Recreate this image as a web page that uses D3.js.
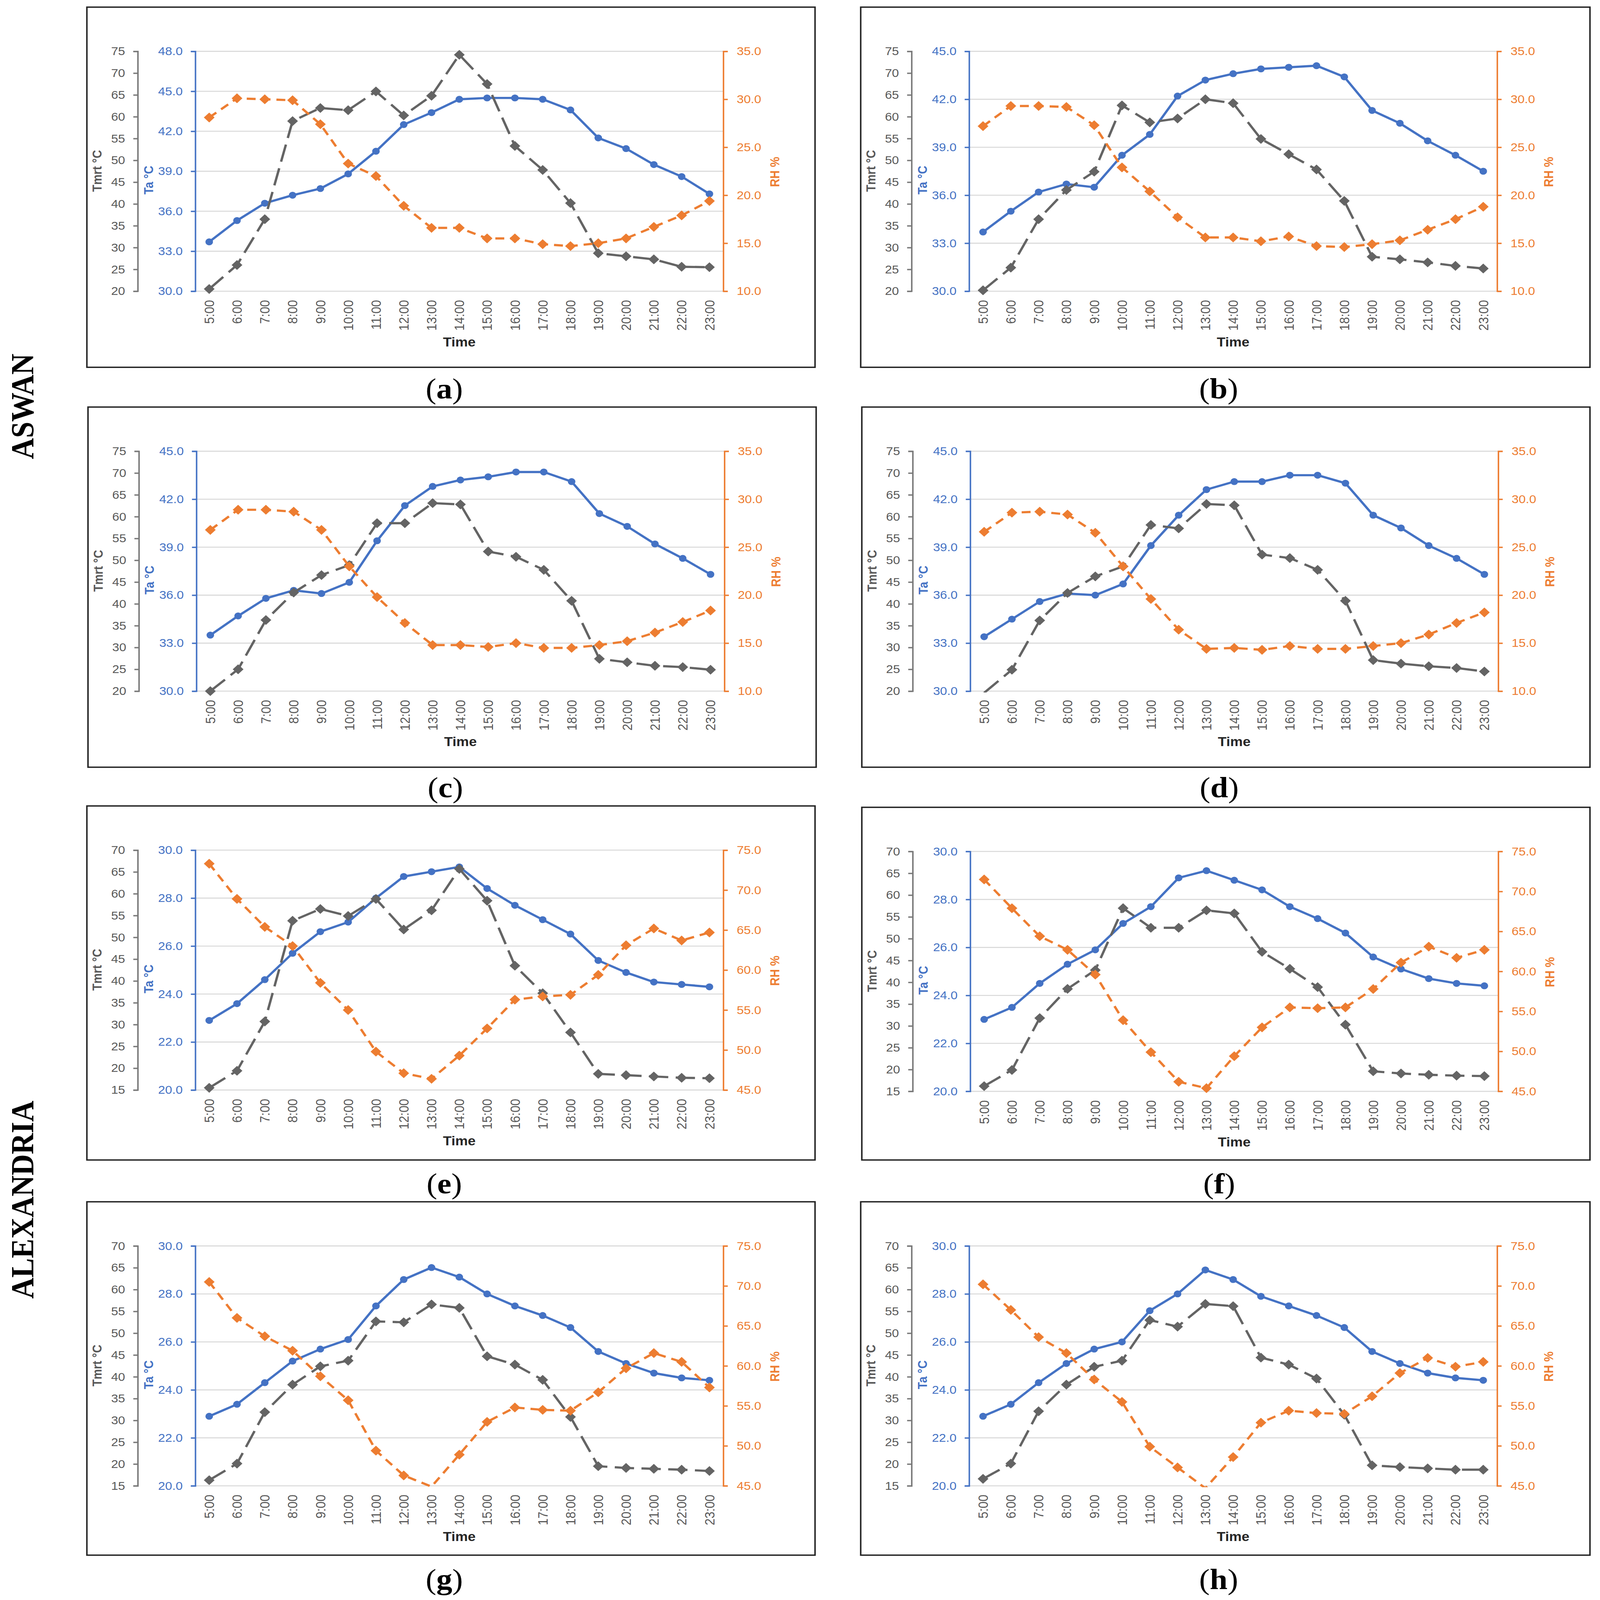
<!DOCTYPE html>
<html>
<head>
    <meta charset="utf-8">
    <style>
        html, body { padding: 0; margin: 0; background: #fff; overflow: hidden; }
        #chart { width: 100vw; height: 100vh; }
        #chart svg { display: block; }
    </style>
</head>
<body>
    <div id="chart"></div>
    <script src="https://cdn.jsdelivr.net/npm/d3@7/dist/d3.min.js"></script>
    <script>
        // categories
        const hours = ['5:00', '6:00', '7:00', '8:00', '9:00', '10:00', '11:00', '12:00', '13:00', '14:00',
                       '15:00', '16:00', '17:00', '18:00', '19:00', '20:00', '21:00', '22:00', '23:00'];

        // Aswan
        const taA   = [33.7, 35.3, 36.6, 37.2, 37.7, 38.8, 40.5, 42.5, 43.4, 44.4, 44.5, 44.5, 44.4, 43.6, 41.5, 40.7, 39.5, 38.6, 37.3];
        const tmrtA = [20.5, 26.0, 36.5, 59.0, 62.0, 61.5, 65.8, 60.3, 64.8, 74.2, 67.5, 53.3, 47.8, 40.2, 28.7, 28.0, 27.3, 25.6, 25.5];
        const rhA   = [28.1, 30.1, 30.0, 29.9, 27.4, 23.3, 22.0, 18.9, 16.6, 16.6, 15.5, 15.5, 14.9, 14.7, 15.0, 15.5, 16.7, 17.9, 19.4];

        const taB   = [33.7, 35.0, 36.2, 36.7, 36.5, 38.5, 39.8, 42.2, 43.2, 43.6, 43.9, 44.0, 44.1, 43.4, 41.3, 40.5, 39.4, 38.5, 37.5];
        const tmrtB = [20.2, 25.4, 36.5, 43.2, 47.4, 62.6, 58.7, 59.6, 64.0, 63.1, 54.9, 51.4, 47.9, 40.7, 27.9, 27.3, 26.6, 25.8, 25.2];
        const rhB   = [27.2, 29.3, 29.3, 29.2, 27.3, 22.9, 20.4, 17.7, 15.6, 15.6, 15.2, 15.7, 14.7, 14.6, 14.9, 15.3, 16.4, 17.5, 18.8];

        const taC   = [33.5, 34.7, 35.8, 36.3, 36.1, 36.8, 39.4, 41.6, 42.8, 43.2, 43.4, 43.7, 43.7, 43.1, 41.1, 40.3, 39.2, 38.3, 37.3];
        const tmrtC = [20.0, 25.0, 36.3, 42.6, 46.6, 48.9, 58.5, 58.5, 63.1, 62.8, 52.0, 50.8, 47.8, 40.7, 27.4, 26.6, 25.8, 25.5, 24.9];
        const rhC   = [26.8, 28.9, 28.9, 28.7, 26.8, 23.0, 19.8, 17.1, 14.8, 14.8, 14.6, 15.0, 14.5, 14.5, 14.8, 15.2, 16.1, 17.2, 18.4];

        const taD   = [33.4, 34.5, 35.6, 36.1, 36.0, 36.7, 39.1, 41.0, 42.6, 43.1, 43.1, 43.5, 43.5, 43.0, 41.0, 40.2, 39.1, 38.3, 37.3];
        const tmrtD = [19.6, 24.9, 36.2, 42.5, 46.3, 48.6, 58.1, 57.3, 62.9, 62.6, 51.3, 50.5, 47.8, 40.7, 27.1, 26.3, 25.7, 25.3, 24.5];
        const rhD   = [26.6, 28.6, 28.7, 28.4, 26.5, 23.0, 19.6, 16.4, 14.4, 14.5, 14.3, 14.7, 14.4, 14.4, 14.7, 15.0, 15.9, 17.1, 18.2];

        // Alexandria
        const taE   = [22.9, 23.6, 24.6, 25.7, 26.6, 27.0, 28.0, 28.9, 29.1, 29.3, 28.4, 27.7, 27.1, 26.5, 25.4, 24.9, 24.5, 24.4, 24.3];
        const tmrtE = [15.5, 19.4, 30.7, 53.8, 56.5, 54.9, 58.8, 51.8, 56.2, 65.7, 58.4, 43.5, 37.2, 28.2, 18.7, 18.4, 18.1, 17.8, 17.7];
        const rhE   = [73.3, 68.9, 65.4, 63.0, 58.4, 55.0, 49.8, 47.1, 46.4, 49.3, 52.7, 56.3, 56.7, 56.9, 59.4, 63.1, 65.2, 63.7, 64.7];

        const taF   = [23.0, 23.5, 24.5, 25.3, 25.9, 27.0, 27.7, 28.9, 29.2, 28.8, 28.4, 27.7, 27.2, 26.6, 25.6, 25.1, 24.7, 24.5, 24.4];
        const tmrtF = [16.2, 19.9, 31.8, 38.5, 42.8, 57.0, 52.5, 52.5, 56.5, 55.8, 47.0, 43.1, 38.9, 30.3, 19.6, 19.1, 18.8, 18.6, 18.5];
        const rhF   = [71.5, 67.9, 64.4, 62.7, 59.6, 53.9, 49.9, 46.2, 45.4, 49.4, 53.0, 55.5, 55.4, 55.5, 57.8, 61.1, 63.1, 61.7, 62.7];

        const taG   = [22.9, 23.4, 24.3, 25.2, 25.7, 26.1, 27.5, 28.6, 29.1, 28.7, 28.0, 27.5, 27.1, 26.6, 25.6, 25.1, 24.7, 24.5, 24.4];
        const tmrtG = [16.3, 20.1, 31.9, 38.2, 42.4, 43.7, 52.7, 52.5, 56.6, 55.8, 44.7, 42.8, 39.3, 30.8, 19.5, 19.1, 18.9, 18.7, 18.4];
        const rhG   = [70.5, 66.0, 63.7, 61.9, 58.7, 55.7, 49.4, 46.3, 44.9, 48.9, 53.0, 54.8, 54.5, 54.4, 56.7, 59.7, 61.6, 60.5, 57.3];

        const taH   = [22.9, 23.4, 24.3, 25.1, 25.7, 26.0, 27.3, 28.0, 29.0, 28.6, 27.9, 27.5, 27.1, 26.6, 25.6, 25.1, 24.7, 24.5, 24.4];
        const tmrtH = [16.6, 20.1, 32.1, 38.2, 42.3, 43.7, 53.0, 51.5, 56.7, 56.2, 44.4, 42.8, 39.6, 31.3, 19.7, 19.3, 19.0, 18.7, 18.7];
        const rhH   = [70.2, 67.0, 63.6, 61.6, 58.3, 55.5, 49.9, 47.3, 44.7, 48.6, 52.9, 54.4, 54.1, 54.0, 56.2, 59.1, 61.0, 59.9, 60.5];

        // axis ticks
        const aswanTmrtTicks = [20, 25, 30, 35, 40, 45, 50, 55, 60, 65, 70, 75];
        const aswanTaTicksA  = [30, 33, 36, 39, 42, 45, 48];
        const aswanTaTicks   = [30, 33, 36, 39, 42, 45];
        const aswanRhTicks   = [10, 15, 20, 25, 30, 35];
        const alexTmrtTicks  = [15, 20, 25, 30, 35, 40, 45, 50, 55, 60, 65, 70];
        const alexTaTicks    = [20, 22, 24, 26, 28, 30];
        const alexRhTicks    = [45, 50, 55, 60, 65, 70, 75];

        const panelLetters = ['a', 'b', 'c', 'd', 'e', 'f', 'g', 'h'];
        const cityNames = ['ASWAN', 'ALEXANDRIA'];

        const BLUE = '#4472C4', ORANGE = '#ED7D31', GRAY = '#595959', LINEGRAY = '#646464';
        const SANS = '"Liberation Sans", Arial, sans-serif';
        const SERIF = '"Liberation Serif", "Times New Roman", serif';

        // the figure is laid out in the reference's own pixel space and fitted to the window
        const W = 4309, H = 4709;
        const svg = d3.select('#chart').append('svg')
            .attr('width', '100%')
            .attr('height', '100%')
            .attr('viewBox', `0 0 ${W} ${H}`)
            .attr('preserveAspectRatio', 'none');
        svg.append('rect').attr('width', W).attr('height', H).attr('fill', '#fff');

        // panel frames on the page
        const frames = [
            { x: 234,  y: 21,   w: 1961, h: 1060 },
            { x: 2318, y: 21,   w: 1964, h: 1060 },
            { x: 237,  y: 1198, w: 1961, h: 1060 },
            { x: 2321, y: 1198, w: 1961, h: 1060 },
            { x: 234,  y: 2372, w: 1961, h: 1042 },
            { x: 2321, y: 2376, w: 1961, h: 1038 },
            { x: 234,  y: 3537, w: 1961, h: 1040 },
            { x: 2318, y: 3537, w: 1964, h: 1040 }
        ];
        const captionY = [1173, 1173, 2346, 2346, 3512, 3512, 4677, 4677];

        const panels = [
            { ta: taA, tmrt: tmrtA, rh: rhA, taTicks: aswanTaTicksA, tmrtTicks: aswanTmrtTicks, rhTicks: aswanRhTicks },
            { ta: taB, tmrt: tmrtB, rh: rhB, taTicks: aswanTaTicks,  tmrtTicks: aswanTmrtTicks, rhTicks: aswanRhTicks },
            { ta: taC, tmrt: tmrtC, rh: rhC, taTicks: aswanTaTicks,  tmrtTicks: aswanTmrtTicks, rhTicks: aswanRhTicks },
            { ta: taD, tmrt: tmrtD, rh: rhD, taTicks: aswanTaTicks,  tmrtTicks: aswanTmrtTicks, rhTicks: aswanRhTicks },
            { ta: taE, tmrt: tmrtE, rh: rhE, taTicks: alexTaTicks,   tmrtTicks: alexTmrtTicks,  rhTicks: alexRhTicks },
            { ta: taF, tmrt: tmrtF, rh: rhF, taTicks: alexTaTicks,   tmrtTicks: alexTmrtTicks,  rhTicks: alexRhTicks },
            { ta: taG, tmrt: tmrtG, rh: rhG, taTicks: alexTaTicks,   tmrtTicks: alexTmrtTicks,  rhTicks: alexRhTicks },
            { ta: taH, tmrt: tmrtH, rh: rhH, taTicks: alexTaTicks,   tmrtTicks: alexTmrtTicks,  rhTicks: alexRhTicks }
        ];

        function styleAxis(sel, color, textColor) {
            sel.selectAll('path.domain').attr('stroke', color).attr('stroke-width', 4);
            sel.selectAll('.tick line').attr('stroke', color).attr('stroke-width', 4);
            sel.selectAll('.tick text')
                .attr('fill', textColor)
                .style('font-family', SANS)
                .style('font-size', '34px');
        }

        function drawPanel(p, f, i) {
            const g = svg.append('g').attr('transform', `translate(${f.x},${f.y})`);
            g.append('rect')
                .attr('width', f.w).attr('height', f.h)
                .attr('fill', '#fff')
                .attr('stroke', '#222').attr('stroke-width', 4);

            const left = 292, right = 1714, top = 130, bottom = 836;

            const x = d3.scalePoint().domain(hours).range([left, right]).padding(0.5);
            const ext = a => [a[0], a[a.length - 1]];
            const yTa = d3.scaleLinear().domain(ext(p.taTicks)).range([bottom, top]);
            const yTmrt = d3.scaleLinear().domain(ext(p.tmrtTicks)).range([bottom, top]);
            const yRh = d3.scaleLinear().domain(ext(p.rhTicks)).range([bottom, top]);

            // gridlines follow the Ta axis
            g.append('g').selectAll('line')
                .data(p.taTicks)
                .join('line')
                .attr('x1', left).attr('x2', right)
                .attr('y1', d => yTa(d)).attr('y2', d => yTa(d))
                .attr('stroke', '#d9d9d9').attr('stroke-width', 3);

            // Tmrt axis
            const axT = g.append('g').attr('transform', 'translate(137,0)')
                .call(d3.axisLeft(yTmrt).tickValues(p.tmrtTicks).tickFormat(d3.format('d'))
                    .tickSize(12).tickPadding(22));
            styleAxis(axT, '#7a7a7a', GRAY);

            // Ta axis
            const axTa = g.append('g').attr('transform', `translate(${left},0)`)
                .call(d3.axisLeft(yTa).tickValues(p.taTicks).tickFormat(d3.format('.1f'))
                    .tickSize(12).tickPadding(22));
            styleAxis(axTa, BLUE, BLUE);

            // RH axis
            const axRh = g.append('g').attr('transform', `translate(${right},0)`)
                .call(d3.axisRight(yRh).tickValues(p.rhTicks).tickFormat(d3.format('.1f'))
                    .tickSize(12).tickPadding(24));
            styleAxis(axRh, ORANGE, ORANGE);

            // category labels, rotated
            const axX = g.append('g').attr('transform', `translate(0,${bottom})`)
                .call(d3.axisBottom(x).tickSize(0));
            axX.select('path.domain').remove();
            axX.selectAll('.tick text')
                .attr('transform', 'rotate(-90)')
                .attr('x', -26).attr('y', 0).attr('dy', '0.35em')
                .attr('text-anchor', 'end')
                .attr('fill', GRAY)
                .style('font-family', SANS)
                .style('font-size', '36px');

            // axis titles
            const title = (tx, ty, rot, txt, color) => g.append('text')
                .attr('transform', `translate(${tx},${ty}) rotate(${rot})`)
                .attr('text-anchor', 'middle').attr('dy', '0.35em')
                .attr('fill', color)
                .style('font-family', SANS).style('font-size', '34px').style('font-weight', 'bold')
                .text(txt);
            title(28, 482, -90, 'Tmrt °C', GRAY);
            title(166, 509, -90, 'Ta °C', BLUE);
            title(1853, 485, -90, 'RH %', ORANGE);
            g.append('text')
                .attr('x', (left + right) / 2).attr('y', 985).attr('dy', '0.35em')
                .attr('text-anchor', 'middle')
                .attr('fill', '#262626')
                .style('font-family', SANS).style('font-size', '38px').style('font-weight', 'bold')
                .text('Time');

            // lines are clipped to the plot area, as Excel does
            const clipId = 'clip' + i;
            g.append('clipPath').attr('id', clipId)
                .append('rect').attr('x', 0).attr('y', top - 60)
                .attr('width', f.w).attr('height', bottom - top + 64);

            const series = [
                { values: p.ta, y: yTa, color: BLUE, dash: null, marker: d3.symbolCircle, size: 280, rot: 0 },
                { values: p.tmrt, y: yTmrt, color: LINEGRAY, dash: '52 20', marker: d3.symbolSquare, size: 360, rot: 45 },
                { values: p.rh, y: yRh, color: ORANGE, dash: '24 16', marker: d3.symbolSquare, size: 360, rot: 45 }
            ];

            series.forEach(s => {
                const dom = s.y.domain();
                const line = d3.line()
                    .x((d, k) => x(hours[k]))
                    .y(d => s.y(d));
                g.append('path')
                    .attr('clip-path', `url(#${clipId})`)
                    .datum(s.values)
                    .attr('d', line)
                    .attr('fill', 'none')
                    .attr('stroke', s.color)
                    .attr('stroke-width', 6.5)
                    .attr('stroke-dasharray', s.dash)
                    .attr('stroke-linejoin', 'round');

                g.append('g').selectAll('path')
                    .data(s.values.map((v, k) => ({ v, k })).filter(d => d.v >= dom[0] - 0.01 && d.v <= dom[1] + 0.01))
                    .join('path')
                    .attr('d', d3.symbol(s.marker, s.size))
                    .attr('transform', d => `translate(${x(hours[d.k])},${s.y(d.v)}) rotate(${s.rot})`)
                    .attr('fill', s.color)
                    .attr('stroke', s.color)
                    .attr('stroke-width', 1.5);
            });

            // caption "(a)"
            const cap = svg.append('text')
                .attr('x', f.x + f.w / 2 - 18).attr('y', captionY[i])
                .attr('text-anchor', 'middle')
                .style('font-family', SERIF).style('font-size', '86px')
                .attr('fill', '#000');
            cap.append('tspan').text('(');
            cap.append('tspan').style('font-weight', 'bold').text(panelLetters[i]);
            cap.append('tspan').text(')');
        }

        panels.forEach((p, i) => drawPanel(p, frames[i], i));

        // city labels on the left
        const cityY = [1196, 3531];
        svg.append('g').selectAll('text')
            .data(cityNames)
            .join('text')
            .attr('transform', (d, i) => `translate(89,${cityY[i]}) rotate(-90)`)
            .attr('text-anchor', 'middle')
            .style('font-family', SERIF)
            .style('font-size', '86px')
            .style('font-weight', 'bold')
            .attr('fill', '#000')
            .text(d => d);
    </script>
</body>
</html>
